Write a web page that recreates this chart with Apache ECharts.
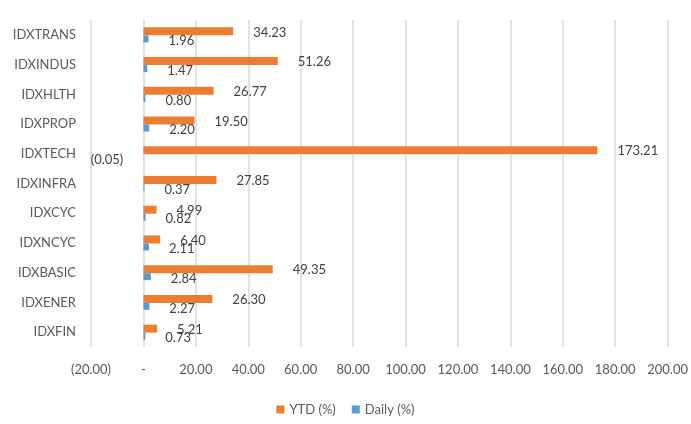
<!DOCTYPE html>
<html>
<head>
<meta charset="utf-8">
<script src="https://cdn.jsdelivr.net/npm/echarts@6/dist/echarts.min.js"></script>
<style>
  html, body { margin: 0; padding: 0; background: #fff; }
  #chart { width: 691px; height: 424px; }
</style>
</head>
<body>
<div id="chart"></div>
<script>
// categories listed bottom to top
const categories = ['IDXFIN', 'IDXENER', 'IDXBASIC', 'IDXNCYC', 'IDXCYC', 'IDXINFRA', 'IDXTECH', 'IDXPROP', 'IDXHLTH', 'IDXINDUS', 'IDXTRANS'];
const ytd = [5.21, 26.30, 49.35, 6.40, 4.99, 27.85, 173.21, 19.50, 26.77, 51.26, 34.23];
const daily = [0.73, 2.27, 2.84, 2.11, 0.82, 0.37, -0.05, 2.20, 0.80, 1.47, 1.96];
const xTicks = { min: -20, max: 200, step: 20 };

const fmt = (v) => {
  if (Math.abs(v) < 1e-9) return '-';
  const s = Math.abs(v).toFixed(2);
  return v < 0 ? '(' + s + ')' : s;
};

const toData = (arr) => arr.map(v => v < 0 ? { value: v, label: { position: 'left' } } : v);

const font = 'Lato';
const chart = echarts.init(document.getElementById('chart'));

chart.setOption({
  animation: false,
  textStyle: { fontFamily: font },
  grid: { left: 91, right: 23, top: 20, bottom: 77, containLabel: false },
  legend: {
    bottom: 3,
    left: 'center',
    itemWidth: 8,
    itemHeight: 8,
    itemGap: 16,
    icon: 'rect',
    textStyle: { fontFamily: font, fontSize: 13, color: '#595959' },
    data: ['YTD (%)', 'Daily (%)'],
  },
  xAxis: {
    type: 'value',
    min: xTicks.min,
    max: xTicks.max,
    interval: xTicks.step,
    axisLine: { show: false },
    axisTick: { show: false },
    axisLabel: { formatter: fmt, color: '#595959', fontSize: 13, margin: 16, fontFamily: font },
    splitLine: { lineStyle: { color: '#d9d9d9', width: 1.5 } },
  },
  yAxis: {
    type: 'category',
    data: categories,
    axisLine: { show: false },
    axisTick: { show: false },
    axisLabel: { color: '#595959', fontSize: 13, margin: 15, fontFamily: font },
    splitLine: { show: false },
  },
  series: [
    {
      name: 'YTD (%)',
      type: 'bar',
      data: toData(ytd),
      barWidth: 8,
      barGap: '0%',
      itemStyle: { color: '#ED7D31' },
      label: { show: true, position: 'right', distance: 20, formatter: p => fmt(p.value), color: '#404040', fontSize: 13, fontFamily: font, offset: [0, 1] },
    },
    {
      name: 'Daily (%)',
      type: 'bar',
      data: toData(daily),
      barWidth: 7,
      barGap: '0%',
      itemStyle: { color: '#5B9BD5' },
      label: { show: true, position: 'right', distance: 20, formatter: p => fmt(p.value), color: '#404040', fontSize: 13, fontFamily: font, offset: [0, 2] },
    },
  ],
});
</script>
</body>
</html>
